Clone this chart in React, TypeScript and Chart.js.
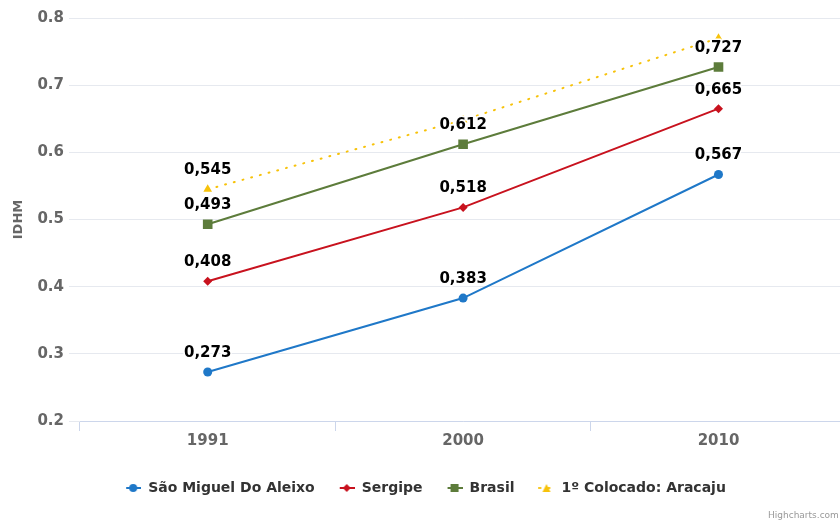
import React, { useEffect, useRef } from "react";
import { Chart, registerables } from "chart.js";
Chart.register(...registerables);

const years = ["1991", "2000", "2010"];
const saoMiguel = [0.273, 0.383, 0.567];
const sergipe = [0.408, 0.518, 0.665];
const brasil = [0.493, 0.612, 0.727];
const aracaju = [0.545, 0.648, 0.77];
const seriesNames = ["São Miguel Do Aleixo", "Sergipe", "Brasil", "1º Colocado: Aracaju"];
const seriesColors = ["#1f78c8", "#c8121e", "#5d7c3b", "#f7c20a"];
const yMin = 0.2;
const yMax = 0.8;
const yStep = 0.1;
const yTitle = "IDHM";
const credits = "Highcharts.com";
// [datasetIndex, pointIndex] of value labels hidden in the original (overlaps / outside plot)
const hiddenLabels: number[][] = [
  [3, 1],
  [3, 2],
];

const FONT = "'DejaVu Sans', sans-serif";
const W = 853;
const H = 522;

function makeLegendSymbol(color: string, style: string, dotted: boolean) {
  const c = document.createElement("canvas");
  c.width = 16;
  c.height = 12;
  const g = c.getContext("2d")!;
  g.strokeStyle = color;
  g.lineWidth = 2;
  if (dotted) {
    g.setLineDash([1, 8]);
    g.lineCap = "round";
  }
  g.beginPath();
  g.moveTo(1, 6);
  g.lineTo(16, 6);
  g.stroke();
  g.setLineDash([]);
  g.fillStyle = color;
  g.beginPath();
  if (style === "circle") {
    g.arc(8, 6, 4, 0, Math.PI * 2);
  } else if (style === "rectRot") {
    g.moveTo(8, 2);
    g.lineTo(12, 6);
    g.lineTo(8, 10);
    g.lineTo(4, 6);
    g.closePath();
  } else if (style === "rect") {
    g.rect(4, 2, 8, 8);
  } else {
    g.moveTo(8, 2);
    g.lineTo(12, 10);
    g.lineTo(4, 10);
    g.closePath();
  }
  g.fill();
  return c;
}

const dataLabelPlugin = {
  id: "dataLabels",
  afterDatasetsDraw(chart: any) {
    const ctx = chart.ctx;
    ctx.save();
    ctx.font = `bold 15px ${FONT}`;
    ctx.textAlign = "center";
    ctx.textBaseline = "middle";
    ctx.lineJoin = "round";
    chart.data.datasets.forEach((ds: any, di: number) => {
      const meta = chart.getDatasetMeta(di);
      meta.data.forEach((pt: any, i: number) => {
        if (hiddenLabels.some((h) => h[0] === di && h[1] === i)) return;
        const txt = Number(ds.data[i]).toFixed(3).replace(".", ",");
        const y = pt.y - 19;
        ctx.strokeStyle = "#ffffff";
        ctx.lineWidth = 3;
        ctx.strokeText(txt, pt.x, y);
        ctx.fillStyle = "#000000";
        ctx.fillText(txt, pt.x, y);
      });
    });
    ctx.restore();
  },
};

const creditsPlugin = {
  id: "credits",
  afterDraw(chart: any) {
    const ctx = chart.ctx;
    ctx.save();
    ctx.font = `9px ${FONT}`;
    ctx.fillStyle = "#999999";
    ctx.textAlign = "left";
    ctx.textBaseline = "alphabetic";
    ctx.fillText(credits, 768, 518);
    ctx.restore();
  },
};

export default function App() {
  const ref = useRef<HTMLCanvasElement | null>(null);
  useEffect(() => {
    if (!ref.current) return;
    const styles = ["circle", "rectRot", "rect", "triangle"];
    const symbols = seriesColors.map((c, i) => makeLegendSymbol(c, styles[i], i === 3));
    const values = [saoMiguel, sergipe, brasil, aracaju];
    const radii = [4.5, 4.5, 6.8, 5];
    const chart = new Chart(ref.current, {
      type: "line",
      data: {
        labels: years,
        datasets: values.map((v, i) => ({
          label: seriesNames[i],
          data: v,
          borderColor: seriesColors[i],
          backgroundColor: seriesColors[i],
          borderWidth: 2,
          borderDash: i === 3 ? [1, 8] : [],
          borderCapStyle: i === 3 ? "round" : "butt",
          pointStyle: styles[i] as any,
          pointRadius: radii[i],
          pointHoverRadius: radii[i],
          pointBorderWidth: 0,
          pointBackgroundColor: seriesColors[i],
          tension: 0,
          fill: false,
          order: 4 - i,
        })),
      },
      options: {
        responsive: false,
        animation: false,
        events: [],
        layout: { padding: { top: 18, right: 2, bottom: 17, left: 0 } },
        scales: {
          x: {
            type: "category",
            offset: true,
            grid: {
              display: true,
              drawOnChartArea: false,
              drawTicks: true,
              tickLength: 10,
              color: "#ccd6eb",
              offset: true,
            },
            border: { display: true, color: "#ccd6eb", width: 1 },
            ticks: { color: "#666666", font: { family: FONT, size: 15, weight: "bold" }, padding: 1 },
            afterFit: (s: any) => {
              s.height = 36;
              s.paddingLeft = 0;
              s.paddingRight = 0;
            },
          },
          y: {
            min: yMin,
            max: yMax,
            grid: { color: "#e6e9ef", tickLength: 11, drawTicks: true },
            border: { display: false },
            ticks: {
              stepSize: yStep,
              color: "#666666",
              padding: 5,
              font: { family: FONT, size: 15, weight: "bold" },
              callback: (v: any) => Number(v).toFixed(1),
            },
            title: {
              display: true,
              text: yTitle,
              color: "#666666",
              font: { family: FONT, size: 13, weight: "bold" },
              padding: { top: 11, bottom: 0 },
            },
            afterFit: (s: any) => {
              s.width = 80;
            },
          },
        },
        plugins: {
          tooltip: { enabled: false },
          legend: {
            position: "bottom",
            labels: {
              usePointStyle: true,
              pointStyleWidth: 16,
              boxHeight: 14,
              padding: 24,
              color: "#333333",
              font: { family: FONT, size: 14, weight: "bold" },
              generateLabels: (ch: any) =>
                ch.data.datasets.map((ds: any, i: number) => ({
                  text: ds.label,
                  datasetIndex: i,
                  pointStyle: symbols[i],
                  fillStyle: "transparent",
                  strokeStyle: "transparent",
                  lineWidth: 0,
                  fontColor: "#333333",
                  hidden: false,
                })),
            },
          },
        },
      },
      plugins: [dataLabelPlugin, creditsPlugin],
    } as any);
    return () => chart.destroy();
  }, []);
  return (
    <div style={{ position: "fixed", left: 0, top: 0, width: 840, height: H, overflow: "hidden", background: "#fff" }}>
      <canvas ref={ref} width={W} height={H} style={{ width: W, height: H, display: "block" }} />
    </div>
  );
}
